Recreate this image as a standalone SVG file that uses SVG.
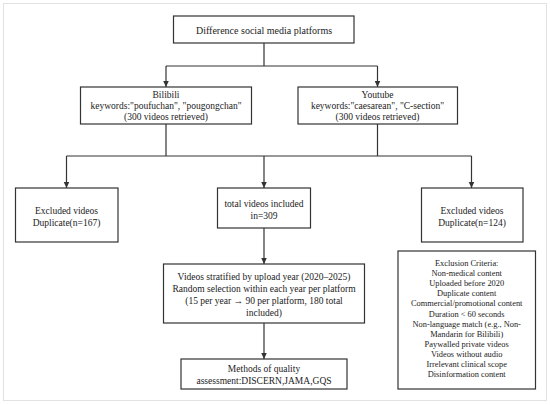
<svg xmlns="http://www.w3.org/2000/svg" width="550" height="405" viewBox="0 0 550 405">
<style>
.box{fill:#fff;stroke:#333;stroke-width:1.2}
.ln{fill:none;stroke:#333;stroke-width:1.2}
text{font-family:'Liberation Serif','Times New Roman',serif;font-size:9.5px;fill:#222;text-anchor:middle}
.t{font-size:10px}
.c{font-size:8.4px}
</style>
<defs>
<marker id="ah" markerUnits="userSpaceOnUse" markerWidth="7" markerHeight="7" viewBox="0 0 7 7" refX="6.5" refY="3.5" orient="auto">
<path d="M0,0.5 L6.5,3.5 L0,6.5 Z" fill="#333"/>
</marker>
</defs>
<rect x="3.5" y="3.5" width="543" height="397" fill="#fff" stroke="#e2e2e2" stroke-width="1"/>
<g id="connectors">
<path class="ln" d="M264,43 V66 M166,66 H377.5"/>
<path class="ln" d="M166,66 V87" marker-end="url(#ah)"/>
<path class="ln" d="M377.5,66 V87" marker-end="url(#ah)"/>
<path class="ln" d="M166,124 V156 M377.5,124 V156 M66.5,156 H471.5"/>
<path class="ln" d="M66.5,156 V188" marker-end="url(#ah)"/>
<path class="ln" d="M264,156 V188" marker-end="url(#ah)"/>
<path class="ln" d="M471.5,156 V188" marker-end="url(#ah)"/>
<path class="ln" d="M264,228 V264" marker-end="url(#ah)"/>
<path class="ln" d="M264,323 V359" marker-end="url(#ah)"/>
</g>
<g font-family="Liberation Serif, Times New Roman, serif">
<g id="platforms">
<rect class="box" x="173.5" y="16" width="180.5" height="27"/>
<text class="t" x="264" y="34">Difference social media platforms</text>
</g>
<g id="bilibili">
<rect class="box" x="80.5" y="87" width="171" height="37"/>
<text x="166" y="97.5">Bilibili</text>
<text x="166" y="109">keywords:"poufuchan", "pougongchan"</text>
<text x="166" y="120">(300 videos retrieved)</text>
</g>
<g id="youtube">
<rect class="box" x="298" y="87" width="159.5" height="37"/>
<text x="377.5" y="97.5">Youtube</text>
<text x="377.5" y="109">keywords:"caesarean", "C-section"</text>
<text x="377.5" y="120">(300 videos retrieved)</text>
</g>
<g id="excluded-left">
<rect class="box" x="15.5" y="188" width="102.5" height="54"/>
<text x="66.5" y="214">Excluded videos</text>
<text x="66.5" y="226">Duplicate(n=167)</text>
</g>
<g id="included">
<rect class="box" x="217.5" y="188" width="93" height="40"/>
<text x="264" y="206.5">total videos included</text>
<text x="264" y="218.5">in=309</text>
</g>
<g id="excluded-right">
<rect class="box" x="421.5" y="188" width="101.5" height="54"/>
<text x="472" y="214">Excluded videos</text>
<text x="472" y="226">Duplicate(n=124)</text>
</g>
<g id="stratified">
<rect class="box" x="163.5" y="264" width="201" height="59"/>
<text x="264" y="280">Videos stratified by upload year (2020–2025)</text>
<text x="264" y="292">Random selection within each year per platform</text>
<text x="264" y="304">(15 per year → 90 per platform, 180 total</text>
<text x="264" y="316">included)</text>
</g>
<g id="methods">
<rect class="box" x="181" y="359" width="166" height="30"/>
<text x="264" y="372">Methods of quality</text>
<text x="264" y="384">assessment:DISCERN,JAMA,GQS</text>
</g>
<g id="criteria">
<rect class="box" x="398" y="251" width="137.5" height="138"/>
<text class="c" x="466.7" y="266">Exclusion Criteria:</text>
<text class="c" x="466.7" y="276.1">Non-medical content</text>
<text class="c" x="466.7" y="286.2">Uploaded before 2020</text>
<text class="c" x="466.7" y="296.3">Duplicate content</text>
<text class="c" x="466.7" y="306.4">Commercial/promotional content</text>
<text class="c" x="466.7" y="316.5">Duration &lt; 60 seconds</text>
<text class="c" x="466.7" y="326.6">Non-language match (e.g., Non-</text>
<text class="c" x="466.7" y="336.7">Mandarin for Bilibili)</text>
<text class="c" x="466.7" y="346.8">Paywalled private videos</text>
<text class="c" x="466.7" y="356.9">Videos without audio</text>
<text class="c" x="466.7" y="367">Irrelevant clinical scope</text>
<text class="c" x="466.7" y="377.1">Disinformation content</text>
</g>
</g>
</svg>
